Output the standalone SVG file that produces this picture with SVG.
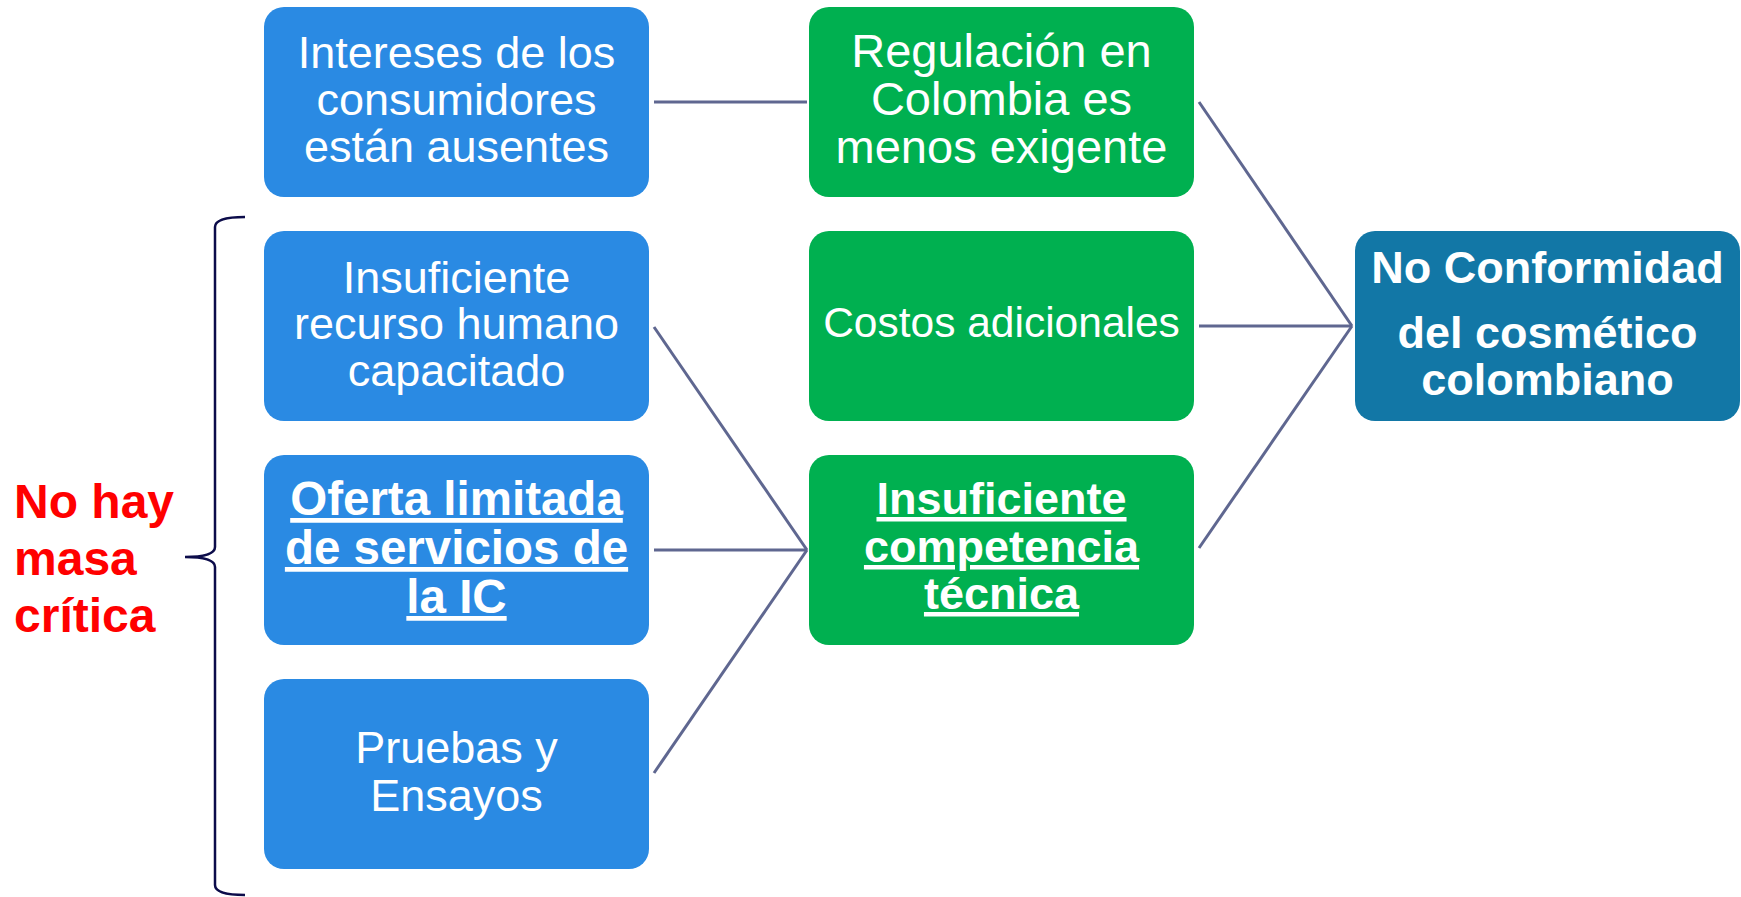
<svg xmlns="http://www.w3.org/2000/svg" width="1741" height="897" viewBox="0 0 1741 897">
<style>
.b{fill:#2A8AE3}
.g{fill:#00B050}
.d{fill:#1277A6}
.t{font-family:"Liberation Sans",Arial,sans-serif;fill:#fff;text-anchor:middle}
.bd{font-weight:bold}
.u{text-decoration:underline}
.c{stroke:#5F6790;stroke-width:3;fill:none}
</style>
<rect width="1741" height="897" fill="#fff"/>
<g id="connectors">
<line class="c" x1="654" y1="102" x2="807" y2="102"/>
<line class="c" x1="654" y1="327" x2="807" y2="550"/>
<line class="c" x1="654" y1="550" x2="807" y2="550"/>
<line class="c" x1="654" y1="773" x2="807" y2="550"/>
<line class="c" x1="1199" y1="102" x2="1352" y2="326"/>
<line class="c" x1="1199" y1="326" x2="1352" y2="326"/>
<line class="c" x1="1199" y1="548" x2="1352" y2="326"/>
</g>
<g id="n1"><rect class="b" x="264" y="7" width="385" height="190" rx="20"/>
<text class="t" font-size="45" x="456.5"><tspan x="456.5" y="68">Intereses de los</tspan><tspan x="456.5" y="115">consumidores</tspan><tspan x="456.5" y="162">están ausentes</tspan></text></g>
<g id="n2"><rect class="b" x="264" y="231" width="385" height="190" rx="20"/>
<text class="t" font-size="45" x="456.5"><tspan x="456.5" y="293">Insuficiente</tspan><tspan x="456.5" y="339">recurso humano</tspan><tspan x="456.5" y="386">capacitado</tspan></text></g>
<g id="n3"><rect class="b" x="264" y="455" width="385" height="190" rx="20"/>
<text class="t bd u" font-size="47.5" x="456.5"><tspan x="456.5" y="515">Oferta limitada</tspan><tspan x="456.5" y="564">de servicios de</tspan><tspan x="456.5" y="613">la IC</tspan></text></g>
<g id="n4"><rect class="b" x="264" y="679" width="385" height="190" rx="20"/>
<text class="t" font-size="45" x="456.5"><tspan x="456.5" y="763">Pruebas y</tspan><tspan x="456.5" y="811">Ensayos</tspan></text></g>
<g id="n5"><rect class="g" x="809" y="7" width="385" height="190" rx="20"/>
<text class="t" font-size="47" x="1001.5"><tspan x="1001.5" y="67">Regulación en</tspan><tspan x="1001.5" y="115">Colombia es</tspan><tspan x="1001.5" y="163">menos exigente</tspan></text></g>
<g id="n6"><rect class="g" x="809" y="231" width="385" height="190" rx="20"/>
<text class="t" font-size="42.5" x="1001.5" y="337">Costos adicionales</text></g>
<g id="n7"><rect class="g" x="809" y="455" width="385" height="190" rx="20"/>
<text class="t bd u" font-size="45" x="1001.5"><tspan x="1001.5" y="514">Insuficiente</tspan><tspan x="1001.5" y="562">competencia</tspan><tspan x="1001.5" y="609">técnica</tspan></text></g>
<g id="n8"><rect class="d" x="1355" y="231" width="385" height="190" rx="20"/>
<text class="t bd" font-size="45" x="1547.5"><tspan x="1547.5" y="283">No Conformidad</tspan><tspan x="1547.5" y="348">del cosmético</tspan><tspan x="1547.5" y="395">colombiano</tspan></text></g>
<g id="brace">
<path d="M245,217 Q215,217 215,227 L215,547 Q215,557 185,557 Q215,557 215,567 L215,885 Q215,895 245,895" fill="none" stroke="#0C0C4A" stroke-width="2.5"/>
<text font-family="Liberation Sans,Arial,sans-serif" font-weight="bold" font-size="48" fill="#FF0000"><tspan x="14" y="518">No hay</tspan><tspan x="14" y="575">masa</tspan><tspan x="14" y="632">crítica</tspan></text>
</g>
</svg>
